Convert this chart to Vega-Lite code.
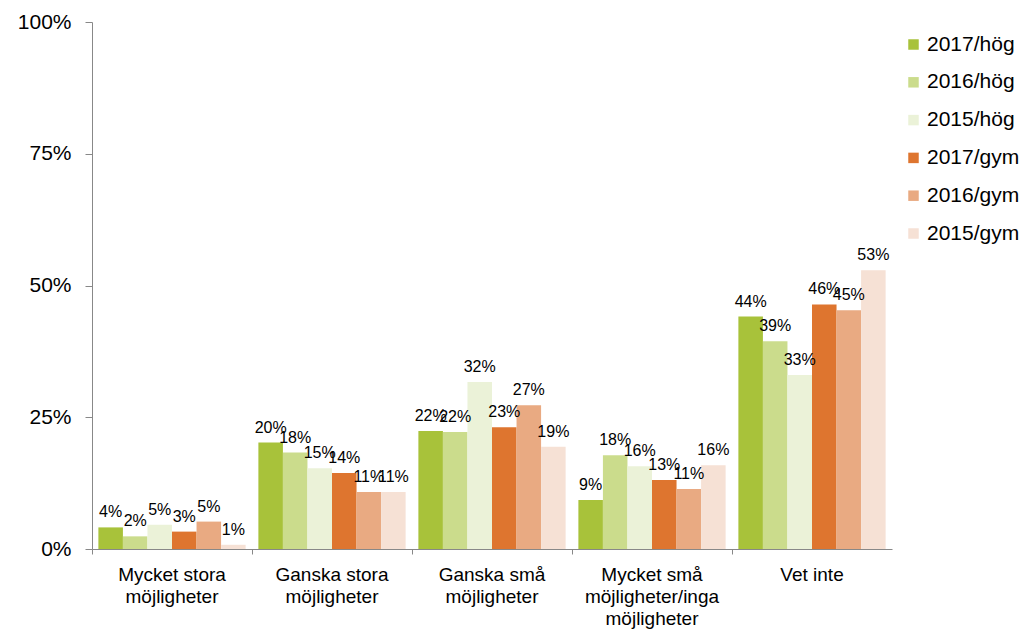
{
  "$schema": "https://vega.github.io/schema/vega-lite/v6.json",
  "width": 800,
  "height": 527,
  "autosize": {"type": "none"},
  "padding": {"left": 92, "top": 22, "right": 140, "bottom": 84},
  "background": "white",
  "config": {
    "font": "Liberation Sans",
    "view": {"stroke": null}
  },
  "data": {
    "values": [
      {"kategori": "Mycket stora möjligheter", "serie": "2017/hög", "andel": 0.041},
      {"kategori": "Mycket stora möjligheter", "serie": "2016/hög", "andel": 0.024},
      {"kategori": "Mycket stora möjligheter", "serie": "2015/hög", "andel": 0.046},
      {"kategori": "Mycket stora möjligheter", "serie": "2017/gym", "andel": 0.033},
      {"kategori": "Mycket stora möjligheter", "serie": "2016/gym", "andel": 0.052},
      {"kategori": "Mycket stora möjligheter", "serie": "2015/gym", "andel": 0.008},
      {"kategori": "Ganska stora möjligheter", "serie": "2017/hög", "andel": 0.202},
      {"kategori": "Ganska stora möjligheter", "serie": "2016/hög", "andel": 0.183},
      {"kategori": "Ganska stora möjligheter", "serie": "2015/hög", "andel": 0.153},
      {"kategori": "Ganska stora möjligheter", "serie": "2017/gym", "andel": 0.144},
      {"kategori": "Ganska stora möjligheter", "serie": "2016/gym", "andel": 0.108},
      {"kategori": "Ganska stora möjligheter", "serie": "2015/gym", "andel": 0.108},
      {"kategori": "Ganska små möjligheter", "serie": "2017/hög", "andel": 0.224},
      {"kategori": "Ganska små möjligheter", "serie": "2016/hög", "andel": 0.222},
      {"kategori": "Ganska små möjligheter", "serie": "2015/hög", "andel": 0.317},
      {"kategori": "Ganska små möjligheter", "serie": "2017/gym", "andel": 0.231},
      {"kategori": "Ganska små möjligheter", "serie": "2016/gym", "andel": 0.273},
      {"kategori": "Ganska små möjligheter", "serie": "2015/gym", "andel": 0.194},
      {"kategori": "Mycket små möjligheter/inga möjligheter", "serie": "2017/hög", "andel": 0.093},
      {"kategori": "Mycket små möjligheter/inga möjligheter", "serie": "2016/hög", "andel": 0.178},
      {"kategori": "Mycket små möjligheter/inga möjligheter", "serie": "2015/hög", "andel": 0.157},
      {"kategori": "Mycket små möjligheter/inga möjligheter", "serie": "2017/gym", "andel": 0.131},
      {"kategori": "Mycket små möjligheter/inga möjligheter", "serie": "2016/gym", "andel": 0.114},
      {"kategori": "Mycket små möjligheter/inga möjligheter", "serie": "2015/gym", "andel": 0.159},
      {"kategori": "Vet inte", "serie": "2017/hög", "andel": 0.441},
      {"kategori": "Vet inte", "serie": "2016/hög", "andel": 0.394},
      {"kategori": "Vet inte", "serie": "2015/hög", "andel": 0.330},
      {"kategori": "Vet inte", "serie": "2017/gym", "andel": 0.464},
      {"kategori": "Vet inte", "serie": "2016/gym", "andel": 0.453},
      {"kategori": "Vet inte", "serie": "2015/gym", "andel": 0.529}
    ]
  },
  "encoding": {
    "x": {
      "field": "kategori",
      "type": "nominal",
      "sort": null,
      "scale": {"paddingInner": 0, "paddingOuter": 0},
      "axis": {
        "title": null,
        "labelAngle": 0,
        "labelFontSize": 19,
        "labelColor": "#000000",
        "labelLineHeight": 22,
        "labelPadding": 11,
        "labelLimit": 200,
        "bandPosition": 0,
        "tickColor": "#888888",
        "tickSize": 5,
        "domainColor": "#888888",
        "labelExpr": "datum.label == 'Mycket stora möjligheter' ? ['Mycket stora', 'möjligheter'] : datum.label == 'Ganska stora möjligheter' ? ['Ganska stora', 'möjligheter'] : datum.label == 'Ganska små möjligheter' ? ['Ganska små', 'möjligheter'] : datum.label == 'Mycket små möjligheter/inga möjligheter' ? ['Mycket små', 'möjligheter/inga', 'möjligheter'] : datum.label"
      }
    },
    "xOffset": {
      "field": "serie",
      "type": "nominal",
      "sort": ["2017/hög", "2016/hög", "2015/hög", "2017/gym", "2016/gym", "2015/gym"],
      "scale": {"paddingInner": 0, "paddingOuter": 0.26}
    },
    "y": {
      "field": "andel",
      "type": "quantitative",
      "scale": {"domain": [0, 1]},
      "axis": {
        "title": null,
        "values": [0, 0.25, 0.5, 0.75, 1],
        "format": ".0%",
        "grid": false,
        "labelFontSize": 21,
        "labelColor": "#000000",
        "labelPadding": 14,
        "tickSize": 7,
        "tickColor": "#888888",
        "domainColor": "#888888"
      }
    }
  },
  "layer": [
    {
      "mark": {"type": "bar"},
      "encoding": {
        "color": {
          "field": "serie",
          "type": "nominal",
          "scale": {
            "domain": ["2017/hög", "2016/hög", "2015/hög", "2017/gym", "2016/gym", "2015/gym"],
            "range": ["#A8C23A", "#CBDC8C", "#EBF2D8", "#DE752F", "#E9AA82", "#F6E1D5"]
          },
          "legend": {
            "title": null,
            "orient": "none",
            "legendX": 811,
            "legendY": 12,
            "symbolType": "square",
            "symbolSize": 110,
            "symbolStrokeWidth": 0,
            "labelFontSize": 21,
            "labelColor": "#000000",
            "labelOffset": 3,
            "rowPadding": 15.8
          }
        }
      }
    },
    {
      "mark": {"type": "text", "baseline": "bottom", "dy": -7, "fontSize": 16, "color": "#000000"},
      "encoding": {
        "text": {"field": "andel", "type": "quantitative", "format": ".0%"}
      }
    }
  ]
}
